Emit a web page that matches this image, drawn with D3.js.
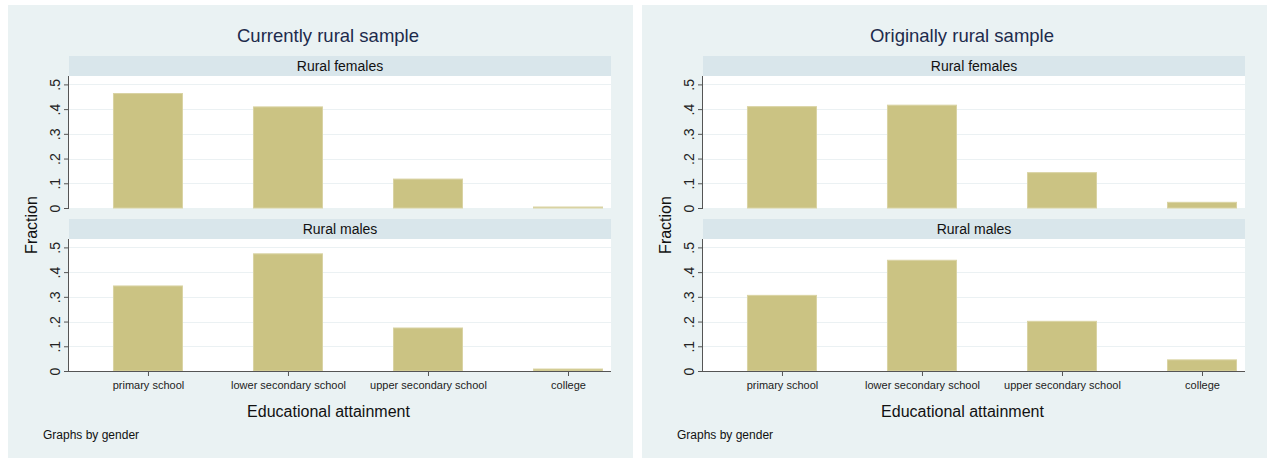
<!DOCTYPE html>
<html>
<head>
<meta charset="utf-8">
<script src="https://cdn.jsdelivr.net/npm/d3@7"></script>
<style>
  body { margin: 0; background: #fff; }
  text { font-family: "Liberation Sans", Arial, sans-serif; }
</style>
</head>
<body>
<div id="chart"></div>
<script>
const width = 1267,
      height = 458;

// data
const categories = ["primary school", "lower secondary school", "upper secondary school", "college"];
const panelTitles = ["Currently rural sample", "Originally rural sample"];
const groupNames = ["Rural females", "Rural males"];
const currentFemales = [0.463, 0.409, 0.117, 0.004];
const currentMales = [0.344, 0.474, 0.174, 0.008];
const originalFemales = [0.410, 0.416, 0.143, 0.023];
const originalMales = [0.306, 0.448, 0.201, 0.045];
const yTicks = [0, 0.1, 0.2, 0.3, 0.4, 0.5];
const yTickLabels = ["0", ".1", ".2", ".3", ".4", ".5"];

const panels = [
  { title: panelTitles[0], x: 8, series: [currentFemales, currentMales] },
  { title: panelTitles[1], x: 642, series: [originalFemales, originalMales] }
];

const panelW = 625,
      plotLeft = 61,
      plotW = 542,
      plotH = 132,
      stripH = 20,
      stripTops = [51, 214];

const bgColor = "#eaf2f3",
      stripColor = "#d9e6eb",
      barColor = "#cbc383",
      gridColor = "#ebf1f3";

const svg = d3.select("#chart")
  .append("svg")
  .attr("width", width)
  .attr("height", height);

const xScale = d3.scaleLinear()
  .domain([0.436, 4.307])
  .range([0, plotW]);

const yScale = d3.scaleLinear()
  .domain([0, 0.534])
  .range([plotH, 0]);

const barW = xScale(1.5) - xScale(1);

panels.forEach((panel) => {
  const g = svg.append("g").attr("transform", `translate(${panel.x}, 5)`);

  g.append("rect")
    .attr("width", panelW)
    .attr("height", height - 5)
    .attr("fill", bgColor);

  g.append("text")
    .attr("x", 320)
    .attr("y", 37)
    .attr("text-anchor", "middle")
    .attr("font-size", "18.5px")
    .attr("fill", "#1d2b4c")
    .text(panel.title);

  g.append("text")
    .attr("transform", `translate(29, 220) rotate(-90)`)
    .attr("text-anchor", "middle")
    .attr("font-size", "16px")
    .attr("fill", "#111")
    .text("Fraction");

  panel.series.forEach((values, k) => {
    const top = stripTops[k];

    g.append("rect")
      .attr("x", plotLeft)
      .attr("y", top)
      .attr("width", plotW)
      .attr("height", stripH)
      .attr("fill", stripColor);

    g.append("text")
      .attr("x", plotLeft + plotW / 2)
      .attr("y", top + 15)
      .attr("text-anchor", "middle")
      .attr("font-size", "14px")
      .attr("fill", "#111")
      .text(groupNames[k]);

    const plot = g.append("g")
      .attr("transform", `translate(${plotLeft}, ${top + stripH})`);

    plot.append("rect")
      .attr("width", plotW)
      .attr("height", plotH)
      .attr("fill", "#fff");

    plot.selectAll(".grid")
      .data(yTicks.slice(1))
      .join("line")
      .attr("class", "grid")
      .attr("x1", 0)
      .attr("x2", plotW)
      .attr("y1", (d) => Math.round(yScale(d)) + 0.5)
      .attr("y2", (d) => Math.round(yScale(d)) + 0.5)
      .attr("stroke", gridColor)
      .attr("stroke-width", 1.2);

    plot.selectAll(".bar")
      .data(values)
      .join("rect")
      .attr("class", "bar")
      .attr("x", (d, i) => xScale(i + 1) - barW / 2 + 0.5)
      .attr("y", (d) => yScale(d))
      .attr("width", barW - 1)
      .attr("height", (d) => yScale(0) - yScale(d))
      .attr("fill", barColor)
      .attr("stroke", "#d9d3a3")
      .attr("stroke-width", 1);

    const yAxis = plot.append("g")
      .call(d3.axisLeft(yScale)
        .tickValues(yTicks)
        .tickSize(5)
        .tickFormat((d, i) => yTickLabels[i]));
    yAxis.select(".domain")
      .attr("d", `M-0.5,0V${plotH}`)
      .attr("stroke", "#555");
    yAxis.selectAll(".tick line").attr("stroke", "#555");
    yAxis.selectAll(".tick text")
      .attr("x", null)
      .attr("dy", null)
      .attr("transform", "translate(-9.5, 0) rotate(-90)")
      .attr("text-anchor", "middle")
      .style("font-family", "'Liberation Sans', Arial, sans-serif")
      .style("font-size", "14px")
      .attr("fill", "#222");

    if (k === 1) {
      const xAxis = plot.append("g")
        .attr("transform", `translate(0, ${plotH})`)
        .call(d3.axisBottom(xScale)
          .tickValues([1, 2, 3, 4])
          .tickSize(5)
          .tickFormat((d) => categories[d - 1]));
      xAxis.select(".domain")
        .attr("d", `M0,0.5H${plotW}`)
        .attr("stroke", "#555");
      xAxis.selectAll(".tick line").attr("stroke", "#555");
      xAxis.selectAll(".tick text")
        .attr("y", 10)
        .attr("dy", "0.71em")
        .style("font-family", "'Liberation Sans', Arial, sans-serif")
        .style("font-size", "11px")
        .attr("fill", "#222");
    }
  });

  g.append("text")
    .attr("x", 320.5)
    .attr("y", 412)
    .attr("text-anchor", "middle")
    .attr("font-size", "16px")
    .attr("fill", "#111")
    .text("Educational attainment");

  g.append("text")
    .attr("x", 35)
    .attr("y", 434)
    .attr("font-size", "12px")
    .attr("fill", "#111")
    .text("Graphs by gender");
});
</script>
</body>
</html>
